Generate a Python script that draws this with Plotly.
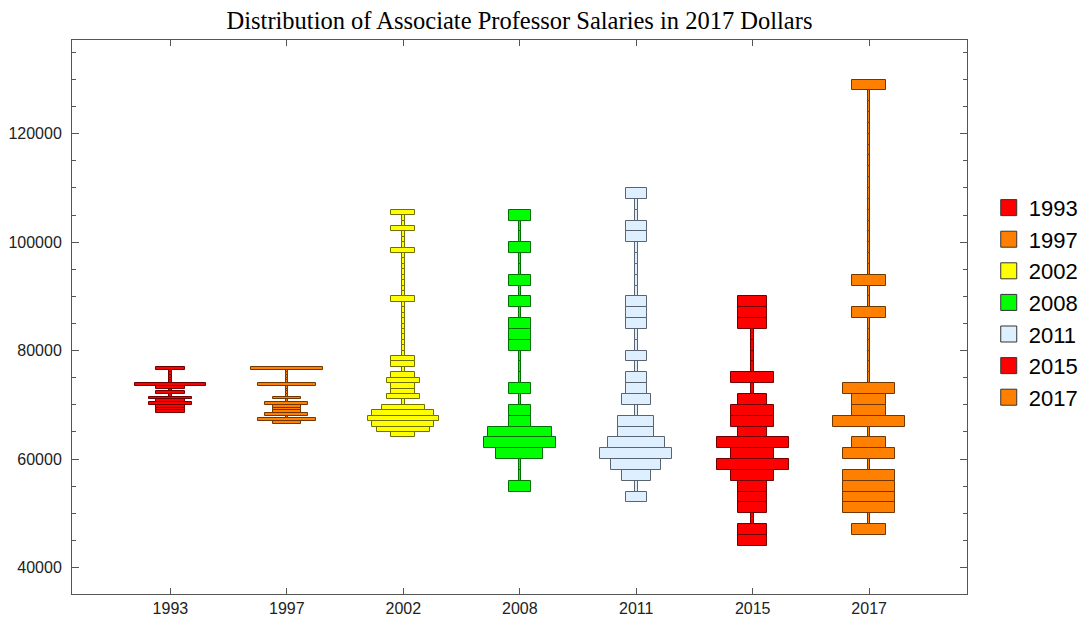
import plotly.graph_objects as go

years = ["1993", "1997", "2002", "2008", "2011", "2015", "2017"]
fill_colors = ["#FF0000", "#FF8000", "#FFFF00", "#00FF00", "#DEF0FF", "#FF0000", "#FF8000"]
edge_colors = ["#700000", "#703800", "#707000", "#007000", "#5A6470", "#700000", "#703800"]

# histogram bins per year: lowest bin edge, bin width, counts per consecutive bin
bin_start = [68500, 66500, 64000, 54000, 52000, 44000, 46000]
bin_width = [500, 500, 1000, 2000, 2000, 2000, 2000]
counts = [
    [1, 1, 1, 2, 1, 2, 0, 1, 0, 1, 4, 0, 0, 0, 0, 0, 1],
    [1, 3, 0, 2, 1, 1, 1, 2, 0, 1, 0, 0, 0, 0, 3, 0, 0, 0, 0, 0, 4],
    [1, 4, 5, 6, 5, 3, 0, 2, 1, 1, 2, 1, 0, 1, 1,
     0, 0, 0, 0, 0, 0, 0, 0, 0, 0, 1, 0, 0, 0, 0, 0, 0, 0, 0, 1, 0, 0, 0, 1, 0, 0, 1],
    [1, 0, 0, 4, 7, 6, 1, 1, 0, 1, 0, 0, 0, 1, 1, 1, 0, 1, 0, 1, 0, 0, 1, 0, 0, 1],
    [1, 0, 2, 5, 8, 6, 3, 3, 0, 2, 1, 1, 0, 1, 0, 0, 1, 1, 1, 0, 0, 0, 0, 0, 1, 1, 0, 0, 1],
    [1, 1, 0, 1, 1, 1, 2, 4, 2, 4, 1, 2, 2, 1, 0, 2, 0, 0, 0, 0, 1, 1, 1],
    [1, 0, 2, 2, 2, 2, 0, 2, 1, 0, 3, 1, 1, 2, 0, 0, 0, 0, 0, 0, 1, 0, 0, 1,
     0, 0, 0, 0, 0, 0, 0, 0, 0, 0, 0, 0, 0, 0, 0, 0, 0, 1],
]

max_w = 0.615
stem_w = 0.022

fig = go.Figure()
for i, year in enumerate(years):
    n_max = max(counts[i])
    lows = [bin_start[i] + k * bin_width[i] for k in range(len(counts[i]))]
    widths = [max_w * (0.2 + 0.8 * n / n_max) if n > 0 else stem_w for n in counts[i]]
    fig.add_trace(go.Bar(
        x=[i] * len(lows), y=[bin_width[i]] * len(lows), base=lows, width=widths,
        marker=dict(color=fill_colors[i], line=dict(color=edge_colors[i], width=1)),
        showlegend=False, hoverinfo="skip",
    ))

# legend entries
for i, year in enumerate(years):
    fig.add_trace(go.Scatter(
        x=[None], y=[None], mode="markers", name=year,
        marker=dict(symbol="square", size=16, color=fill_colors[i],
                    line=dict(color="#333333", width=1)),
    ))

# the page body adds 8px around the figure, so the figure is 8px smaller
fig.update_layout(
    width=1083, height=613,
    margin=dict(l=64, r=124, t=32, b=27, autoexpand=False),
    plot_bgcolor="white", paper_bgcolor="white",
    barmode="overlay", bargap=0,
    title=dict(text="Distribution of Associate Professor Salaries in 2017 Dollars",
               x=0.5, xref="paper", xanchor="center", y=1 - 12 / 613, yanchor="middle",
               font=dict(family="Liberation Serif", size=24.5, color="black")),
    legend=dict(x=1.0243, y=0.735, xanchor="left", yanchor="top",
                font=dict(family="Liberation Sans", size=22, color="black"),
                itemsizing="trace", tracegroupgap=0),
    font=dict(family="Liberation Sans", size=16, color="#222222"),
)
fig.update_xaxes(
    range=[-0.845, 6.84], tickmode="array", tickvals=list(range(len(years))), ticktext=years,
    showline=True, mirror="allticks", linecolor="#555555", linewidth=1,
    ticks="inside", ticklen=6, tickcolor="#555555", showgrid=False, zeroline=False,
    automargin=False,
)
fig.update_yaxes(
    range=[35100, 137300], tickmode="array", tickvals=[40000, 60000, 80000, 100000, 120000],
    tickformat="d",
    showline=True, mirror="allticks", linecolor="#555555", linewidth=1,
    ticks="inside", ticklen=7, tickcolor="#555555", showgrid=False, zeroline=False,
    minor=dict(dtick=5000, tick0=0, ticks="inside", ticklen=4, tickcolor="#555555"),
    ticklabelstandoff=6, automargin=False,
)

fig.write_html("out.html")
